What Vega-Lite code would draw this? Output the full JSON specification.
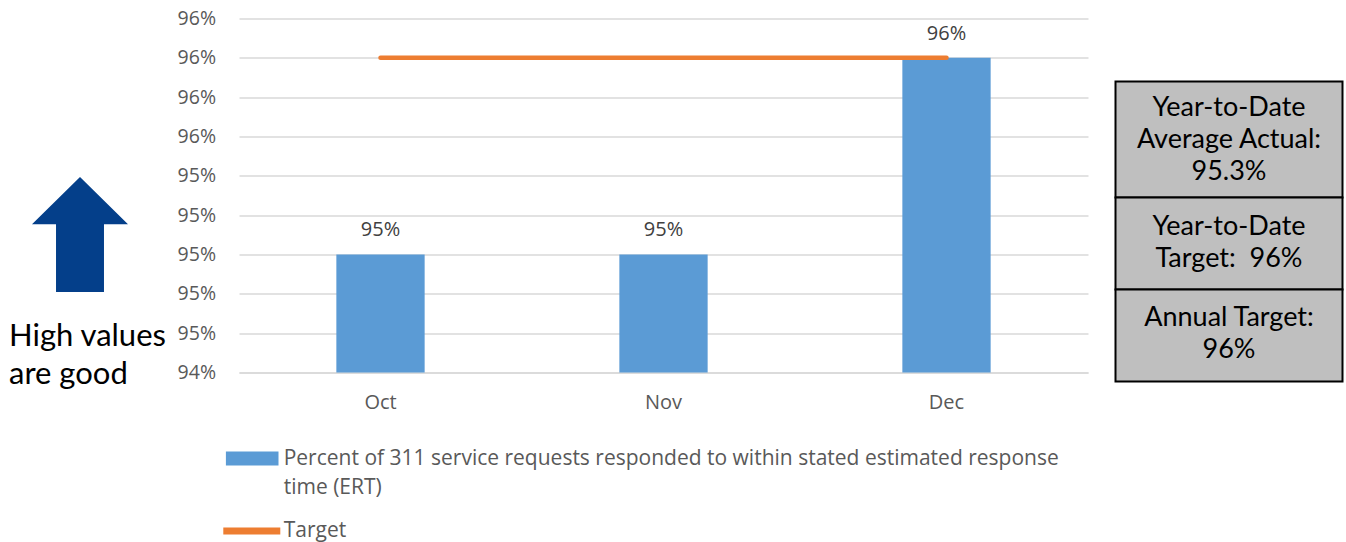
{
  "$schema": "https://vega.github.io/schema/vega-lite/v6.json",
  "padding": {"left": 9, "top": 8.5, "right": 0, "bottom": 0},
  "background": "white",
  "spacing": 27.5,
  "bounds": "flush",
  "config": {
    "font": "Open Sans",
    "view": {"stroke": null},
    "style": {"guide-label": {"lineHeight": 29}}
  },
  "hconcat": [
    {
      "width": 142,
      "height": 273.5,
      "data": {"values": [{"meaning": "High values are good"}]},
      "mark": {
        "type": "point",
        "shape": "M0,-2L0.835,-1.177L0.417,-1.177L0.417,0L-0.417,0L-0.417,-1.177L-0.835,-1.177Z",
        "size": 13225,
        "filled": true,
        "color": "#043F8A",
        "opacity": 1,
        "strokeWidth": 0
      },
      "encoding": {"y": {"value": "height"}},
      "title": {
        "text": ["High values", "are good"],
        "orient": "bottom",
        "anchor": "start",
        "font": "Lato",
        "fontSize": 31,
        "fontWeight": "normal",
        "color": "#000000",
        "lineHeight": 38,
        "offset": 30
      }
    },
    {
      "width": 32.5,
      "height": 10,
      "data": {"values": [{}]},
      "mark": {"type": "text"},
      "encoding": {"text": {"value": ""}}
    },
    {
      "width": 849,
      "height": 354,
      "data": {
        "values": [
          {"month": "Oct", "pct": 0.95, "target": 0.96},
          {"month": "Nov", "pct": 0.95, "target": 0.96},
          {"month": "Dec", "pct": 0.96, "target": 0.96}
        ]
      },
      "encoding": {
        "x": {
          "field": "month",
          "type": "ordinal",
          "sort": null,
          "scale": {"paddingInner": 0.688, "paddingOuter": 0.344},
          "axis": {
            "title": null,
            "labelAngle": 0,
            "ticks": false,
            "domain": true,
            "domainColor": "#D9D9D9",
            "domainWidth": 1.3,
            "labelFont": "Open Sans",
            "labelFontSize": 20,
            "labelColor": "#595959",
            "labelPadding": 20
          }
        }
      },
      "layer": [
        {
          "mark": {"type": "bar", "color": "#5B9BD5", "clip": true},
          "encoding": {
            "y": {
              "field": "pct",
              "type": "quantitative",
              "scale": {"domain": [0.9439999, 0.9620001], "zero": false, "nice": false},
              "axis": {
                "title": null,
                "values": [0.944, 0.946, 0.948, 0.95, 0.952, 0.954, 0.956, 0.958, 0.96, 0.962],
                "tickCount": 20,
                "format": ".0%",
                "domain": false,
                "ticks": false,
                "grid": true,
                "gridColor": "#D9D9D9",
                "gridWidth": 1.3,
                "labelOverlap": false,
                "labelFont": "Open Sans",
                "labelFontSize": 19.5,
                "labelColor": "#595959",
                "labelPadding": 23.5
              }
            },
            "fill": {
              "datum": "Percent of 311 service requests responded to within stated estimated response time (ERT)",
              "type": "nominal",
              "scale": {"range": ["#5B9BD5"]},
              "legend": {
                "orient": "none",
                "legendX": 216.7,
                "legendY": 413.5,
                "title": null,
                "padding": 0,
                "symbolType": "M-1,-0.266H1V0.266H-1Z",
                "symbolSize": 2767,
                "symbolStrokeWidth": 0,
                "labelFont": "Open Sans",
                "labelFontSize": 21,
                "labelColor": "#595959",
                "labelLimit": 1000,
                "labelOffset": 5,
                "labelExpr": "['Percent of 311 service requests responded to within stated estimated response', 'time (ERT)']"
              }
            }
          }
        },
        {
          "mark": {"type": "text", "dy": -24, "font": "Open Sans", "fontSize": 20, "color": "#404040"},
          "encoding": {
            "y": {"field": "pct", "type": "quantitative"},
            "text": {"field": "pct", "type": "quantitative", "format": ".0%"}
          }
        },
        {
          "mark": {"type": "line", "strokeWidth": 4.5, "strokeCap": "round"},
          "encoding": {
            "y": {"field": "target", "type": "quantitative"},
            "stroke": {
              "datum": "Target",
              "type": "nominal",
              "scale": {"range": ["#ED7D31"]},
              "legend": {
                "orient": "none",
                "legendX": 210.8,
                "legendY": 480.5,
                "title": null,
                "padding": 0,
                "symbolType": "stroke",
                "symbolSize": 3249,
                "symbolStrokeWidth": 7,
                "labelFont": "Open Sans",
                "labelFontSize": 21,
                "labelColor": "#595959",
                "labelOffset": 0
              }
            }
          }
        }
      ]
    },
    {
      "vconcat": [
        {
          "width": 227,
          "height": 62.5,
          "data": {"values": [{}]},
          "mark": {"type": "text"},
          "encoding": {"text": {"value": ""}}
        },
        {
          "width": 227,
          "height": 116,
          "view": {"fill": "#BFBFBF", "stroke": "#000000", "strokeWidth": 2},
          "data": {"values": [{"lines": ["Year-to-Date", "Average Actual:", "95.3%"]}]},
          "mark": {"type": "text", "font": "Lato", "fontSize": 27, "lineHeight": 32, "color": "#000000", "dy": -32},
          "encoding": {"text": {"field": "lines", "type": "nominal"}}
        },
        {
          "width": 227,
          "height": 92,
          "view": {"fill": "#BFBFBF", "stroke": "#000000", "strokeWidth": 2},
          "data": {"values": [{"lines": ["Year-to-Date", "Target: \u00a096%"]}]},
          "mark": {"type": "text", "font": "Lato", "fontSize": 27, "lineHeight": 32, "color": "#000000", "dy": -17},
          "encoding": {"text": {"field": "lines", "type": "nominal"}}
        },
        {
          "width": 227,
          "height": 92,
          "view": {"fill": "#BFBFBF", "stroke": "#000000", "strokeWidth": 2},
          "data": {"values": [{"lines": ["Annual Target:", "96%"]}]},
          "mark": {"type": "text", "font": "Lato", "fontSize": 27, "lineHeight": 32, "color": "#000000", "dy": -18},
          "encoding": {"text": {"field": "lines", "type": "nominal"}}
        }
      ],
      "spacing": 0,
      "bounds": "flush"
    }
  ]
}
